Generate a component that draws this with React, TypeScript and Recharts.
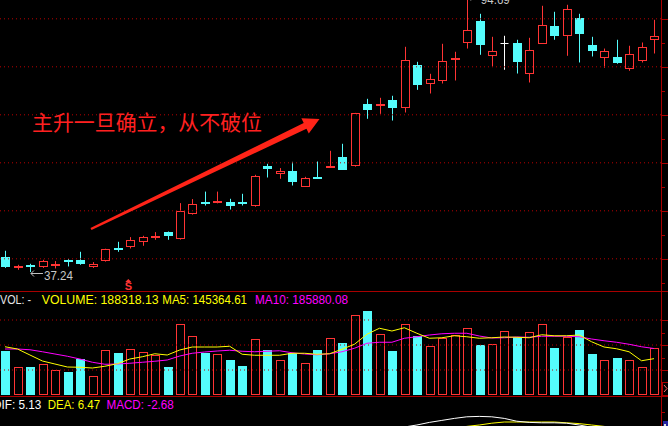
import React from 'react'
import {
  Bar,
  ComposedChart,
  Line,
  LineChart,
  ReferenceDot,
  ReferenceLine,
  XAxis,
  YAxis,
} from 'recharts'

// Daily K-line, 53 sessions (price in yuan)
const opens = [40.35, 37.98, 38.7, 38.19, 38.54, 39.8, 39.79, 38.19, 39.44, 42.23, 42.56, 43.4, 44.5, 45.48, 44.1, 49.31, 51.9, 51.6, 51.88, 51.88, 50.9, 59.38, 57.77, 58.33, 55.06, 57.05, 59.1, 61.25, 59.23, 72.29, 71.88, 73.13, 71.4, 80.42, 76.4, 76.94, 81.4, 85.06, 89.58, 82.15, 84.94, 85.0, 78.6, 84.85, 88.54, 86.52, 90.2, 84.58, 81.73, 82.08, 79.44, 81.31, 85.48]
const highs = [41.67, 38.75, 38.96, 39.79, 39.52, 39.94, 41.46, 39.31, 42.1, 43.54, 44.52, 44.79, 45.56, 45.69, 51.6, 52.44, 54.0, 54.0, 52.5, 53.54, 57.5, 59.79, 58.9, 60.2, 57.08, 60.27, 62.5, 63.96, 70.4, 73.33, 73.54, 73.96, 84.17, 81.04, 78.54, 84.79, 83.13, 94.69, 91.04, 86.25, 86.46, 85.63, 86.04, 92.71, 91.46, 92.92, 91.04, 86.25, 83.8, 85.63, 84.38, 85.06, 89.79]
const lows = [38.1, 37.71, 37.24, 38.1, 37.98, 38.4, 38.75, 38.1, 39.42, 41.46, 42.15, 42.71, 43.96, 43.96, 44.0, 49.2, 51.1, 51.55, 50.27, 51.1, 50.85, 56.94, 56.67, 55.27, 55.0, 56.95, 59.05, 58.5, 59.2, 69.17, 70.2, 68.8, 70.48, 75.2, 74.44, 76.52, 77.15, 83.8, 82.5, 80.06, 79.38, 78.6, 76.73, 84.8, 85.63, 82.29, 80.9, 82.15, 79.79, 80.63, 79.17, 80.9, 82.77]
const closes = [38.19, 38.54, 38.4, 39.58, 38.96, 39.65, 38.96, 38.9, 42.08, 41.81, 43.96, 44.58, 44.7, 44.65, 50.0, 51.4, 51.8, 52.02, 51.1, 51.4, 57.29, 58.81, 58.33, 56.1, 56.81, 56.95, 59.38, 58.54, 70.35, 71.04, 72.29, 71.52, 81.46, 76.3, 77.5, 81.25, 81.8, 87.64, 84.58, 83.33, 84.94, 81.1, 83.48, 88.69, 86.52, 92.02, 86.73, 83.19, 83.33, 80.83, 82.71, 84.17, 86.46]

// volume (shares) and its moving averages as drawn
const volumes = [176000, 111000, 112000, 123000, 99000, 92000, 144000, 76000, 179000, 168000, 183000, 171000, 159000, 112000, 283000, 235000, 168000, 163000, 140000, 116000, 224000, 180000, 139000, 168000, 128000, 180000, 228000, 208000, 320000, 336000, 243000, 176000, 283000, 236000, 196000, 229000, 240000, 267000, 200000, 203000, 255000, 233000, 251000, 283000, 187000, 231000, 260000, 164000, 139000, 148000, 139000, 111000, 188318.13]
const ma5 = [193000, 184000, 160000, 136000, 124000, 112000, 111000, 108000, 115000, 125000, 144000, 153000, 165000, 160000, 180000, 192000, 192000, 192000, 195000, 163000, 159000, 159000, 159000, 167000, 167000, 163000, 165000, 183000, 203000, 243000, 267000, 256000, 269000, 247000, 227000, 229000, 237000, 233000, 227000, 229000, 232000, 231000, 229000, 241000, 237000, 237000, 240000, 213000, 192000, 185000, 173000, 137000, 145364.61]
const ma10 = [184000, 184000, 181000, 173000, 164000, 155000, 144000, 131000, 123000, 124000, 127000, 131000, 135000, 140000, 156000, 167000, 172000, 176000, 179000, 175000, 173000, 175000, 177000, 169000, 164000, 161000, 165000, 173000, 187000, 207000, 211000, 211000, 227000, 233000, 240000, 245000, 247000, 247000, 236000, 228000, 229000, 232000, 231000, 235000, 235000, 235000, 233000, 224000, 217000, 211000, 203000, 193000, 185880.08]

// MACD lines (only the tops peek into the window)
const dif = [-0.6, -0.9, -1.1, -1.1, -1.0, -0.9, -0.9, -0.9, -0.6, -0.4, -0.1, 0.2, 0.5, 0.7, 1.4, 2.1, 2.6, 3.0, 3.2, 3.3, 3.8, 4.3, 4.6, 4.6, 4.5, 4.5, 4.7, 4.7, 5.6, 6.4, 7.0, 7.4, 8.25, 8.75, 9.4, 9.9, 10.4, 10.8, 10.9, 10.8, 10.4, 9.7, 9.4, 9.3, 9.3, 9.2, 8.75, 8.2, 7.6, 6.9, 6.3, 5.7, 5.13]
const dea = [0.2, 0.0, -0.2, -0.4, -0.5, -0.6, -0.6, -0.7, -0.7, -0.6, -0.5, -0.4, -0.2, 0.0, 0.3, 0.6, 1.0, 1.4, 1.8, 2.1, 2.4, 2.8, 3.1, 3.4, 3.6, 3.8, 4.0, 4.1, 4.4, 4.8, 5.2, 5.6, 6.1, 6.6, 7.1, 7.6, 8.0, 8.4, 8.75, 9.2, 9.5, 9.5, 9.5, 9.5, 9.5, 9.3, 9.1, 8.75, 8.4, 8.0, 7.5, 7.0, 6.47]

const priceGrid = [40, 50, 60, 70, 80, 90]
const priceTicks = [35, 40, 45, 50, 55, 60, 65, 70, 75, 80, 85, 90]
const volGrid = [100000, 200000, 300000]
const volTicks = [100000, 150000, 200000, 250000, 300000]
const macdTicks = [12]
const signalIdx = 10

const W = 668
const H = 426
const AXIS_X = 661
const X_DOMAIN: [number, number] = [-0.4, 52.56]
const PRICE_DOMAIN: [number, number] = [33.5, 98.0833]
const VOL_DOMAIN: [number, number] = [0, 416000]
const MACD_DOMAIN: [number, number] = [-2.5, 15.75]

const UP = '#ff3434'
const DOWN = '#54fcfc'
const FRAME = '#a80000'
const GRID = '#b80000'
const YELLOW = '#ffff00'
const MAGENTA = '#ff00ff'
const FONT = '"Liberation Sans", Arial, sans-serif'

const rows = opens.map((open, i) => ({
  i,
  open,
  high: highs[i],
  low: lows[i],
  close: closes[i],
  range: [lows[i], highs[i]],
  up: closes[i] >= open,
  vol: volumes[i],
  ma5: ma5[i],
  ma10: ma10[i],
  dif: dif[i],
  dea: dea[i],
}))

const lowIdx = lows.indexOf(Math.min(...lows))
const highIdx = highs.indexOf(Math.max(...highs))

const renderCandle = (props: any) => {
  const { x, y, width, height, payload } = props
  if (x == null || y == null || !payload) return <g />
  const cx = Math.round(x + width / 2) + 0.5
  const top = Math.min(y, y + height)
  const span = Math.abs(height)
  const { open, high, low, close } = payload
  const py = (p: number) => top + ((high - p) / (high - low)) * span
  const yH = py(high)
  const yL = py(low)
  const bodyTop = py(Math.max(open, close))
  const bodyBot = py(Math.min(open, close))
  if (close === open) {
    const yy = Math.round(bodyTop) + 0.5
    return (
      <g stroke="#ffffff">
        <line x1={cx} x2={cx} y1={yH} y2={yL} />
        <line x1={cx - 4} x2={cx + 4} y1={yy} y2={yy} />
      </g>
    )
  }
  if (close > open) {
    const t = Math.round(bodyTop) + 0.5
    const b = Math.max(Math.round(bodyBot) - 0.5, t + 1)
    return (
      <g stroke={UP} strokeWidth={1}>
        <line x1={cx} x2={cx} y1={yH} y2={t} />
        <line x1={cx} x2={cx} y1={b} y2={yL} />
        <rect x={cx - 4} y={t} width={8} height={b - t} fill="#000" />
      </g>
    )
  }
  const t = Math.round(bodyTop)
  const h = Math.max(Math.round(bodyBot) - t, 2)
  return (
    <g>
      <line x1={cx} x2={cx} y1={yH} y2={yL} stroke={DOWN} />
      <rect x={cx - 4.5} y={t} width={9} height={h} fill={DOWN} />
    </g>
  )
}

const renderVolume = (props: any) => {
  const { x, y, width, height, payload } = props
  if (x == null || y == null || !payload) return <g />
  const cx = Math.round(x + width / 2) + 0.5
  const top = Math.round(y)
  const bot = Math.round(y + height)
  if (payload.up) {
    return <rect x={cx - 4} y={top + 0.5} width={8} height={bot - top - 1} fill="none" stroke={UP} />
  }
  return <rect x={cx - 4.5} y={top} width={9} height={bot - top} fill={DOWN} />
}

// right-hand axis ticks: long on the grid levels, short in between
const axisTick = (step: number) => (props: any) => {
  const { y, payload } = props
  const major = Math.abs(payload.value % step) < 1e-6
  const yy = Math.round(y) + 0.5
  return <line x1={AXIS_X} x2={major ? W : AXIS_X + 4} y1={yy} y2={yy} stroke={FRAME} />
}

// "←37.24" style marker for the extreme prices
const extremeLabel = (text: string) => (props: any) => {
  const { cx, cy } = props
  if (cx == null || cy == null) return <g />
  const ly = Math.round(cy) + 1.5
  return (
    <g>
      <polyline points={`${cx + 4},${ly - 3} ${cx + 1},${ly} ${cx + 4},${ly + 3}`} fill="none" stroke="#c0c0c0" />
      <line x1={cx + 1} x2={cx + 13} y1={ly} y2={ly} stroke="#c0c0c0" />
      <text x={cx + 14} y={cy + 7.5} fill="#c8c8c8" fontSize={13} fontFamily={FONT} textLength={29} lengthAdjust="spacingAndGlyphs">
        {text}
      </text>
    </g>
  )
}

const signalMark = (props: any) => {
  const { cx, cy } = props
  if (cx == null || cy == null) return <g />
  const x0 = cx - 1.5
  return (
    <g fill={UP}>
      <polygon points={`${x0 - 3},${cy - 3} ${x0},${cy - 6} ${x0 + 3},${cy - 3}`} />
      <text x={x0} y={cy + 5} textAnchor="middle" fontSize={11} fontWeight="bold" fontFamily={FONT}>
        S
      </text>
    </g>
  )
}

const arrowTail = { x: 91, y: 229 }
const arrowTip = { x: 319.5, y: 119 }

function arrowPoints() {
  const dx = arrowTip.x - arrowTail.x
  const dy = arrowTip.y - arrowTail.y
  const len = Math.hypot(dx, dy)
  const ux = dx / len
  const uy = dy / len
  const nx = -uy
  const ny = ux
  const px = arrowTip.x - ux * 16
  const py = arrowTip.y - uy * 16
  const pts = [
    [arrowTail.x + nx * 1.2, arrowTail.y + ny * 1.2],
    [px + nx * 3.2, py + ny * 3.2],
    [px + nx * 8.5, py + ny * 8.5],
    [arrowTip.x, arrowTip.y],
    [px - nx * 8.5, py - ny * 8.5],
    [px - nx * 3.2, py - ny * 3.2],
    [arrowTail.x - nx * 1.2, arrowTail.y - ny * 1.2],
  ]
  return pts.map((p) => p.join(',')).join(' ')
}

const flat = { top: 0, right: 0, bottom: 0, left: 0 }

export default function App() {
  return (
    <div style={{ position: 'fixed', left: 0, top: 0, width: W, height: H, background: '#000', overflow: 'hidden' }}>
      {/* price panel */}
      <div style={{ position: 'absolute', left: 0, top: -20 }}>
        <ComposedChart width={W} height={310} data={rows} margin={flat}>
          <XAxis dataKey="i" type="number" domain={X_DOMAIN} allowDataOverflow hide />
          <YAxis
            orientation="right"
            width={7}
            domain={PRICE_DOMAIN}
            allowDataOverflow
            ticks={priceTicks}
            interval={0}
            tick={axisTick(10)}
            tickLine={false}
            axisLine={false}
          />
          {priceGrid.map((v) => (
            <ReferenceLine key={v} y={v} stroke={GRID} strokeDasharray="1 3" />
          ))}
          <Bar dataKey="range" barSize={9} shape={renderCandle} isAnimationActive={false} />
          <ReferenceDot x={lowIdx} y={lows[lowIdx]} shape={extremeLabel(lows[lowIdx].toFixed(2))} />
          <ReferenceDot x={highIdx} y={highs[highIdx]} shape={extremeLabel(highs[highIdx].toFixed(2))} />
          <ReferenceDot x={signalIdx} y={34.55} shape={signalMark} />
        </ComposedChart>
      </div>

      {/* volume panel */}
      <div style={{ position: 'absolute', left: 0, top: 291 }}>
        <ComposedChart width={W} height={104} data={rows} margin={flat}>
          <XAxis dataKey="i" type="number" domain={X_DOMAIN} allowDataOverflow hide />
          <YAxis
            orientation="right"
            width={7}
            domain={VOL_DOMAIN}
            allowDataOverflow
            ticks={volTicks}
            interval={0}
            tick={axisTick(100000)}
            tickLine={false}
            axisLine={false}
          />
          {volGrid.map((v) => (
            <ReferenceLine key={v} y={v} stroke={GRID} strokeDasharray="1 3" />
          ))}
          <Bar dataKey="vol" barSize={9} shape={renderVolume} isAnimationActive={false} />
          <Line dataKey="ma10" stroke={MAGENTA} strokeWidth={1} dot={false} isAnimationActive={false} />
          <Line dataKey="ma5" stroke={YELLOW} strokeWidth={1} dot={false} isAnimationActive={false} />
        </ComposedChart>
      </div>

      {/* MACD panel, mostly below the window */}
      <div style={{ position: 'absolute', left: 0, top: 397 }}>
        <LineChart width={W} height={73} data={rows} margin={flat}>
          <XAxis dataKey="i" type="number" domain={X_DOMAIN} allowDataOverflow hide />
          <YAxis
            orientation="right"
            width={7}
            domain={MACD_DOMAIN}
            allowDataOverflow
            ticks={macdTicks}
            interval={0}
            tick={axisTick(1000)}
            tickLine={false}
            axisLine={false}
          />
          <Line dataKey="dea" stroke={YELLOW} strokeWidth={1} dot={false} isAnimationActive={false} />
          <Line dataKey="dif" stroke="#ffffff" strokeWidth={1} dot={false} isAnimationActive={false} />
        </LineChart>
      </div>

      <svg width={W} height={H} style={{ position: 'absolute', left: 0, top: 0, pointerEvents: 'none' }}>
        <line x1={0} x2={W} y1={291.5} y2={291.5} stroke={FRAME} />
        <line x1={0} x2={W} y1={396.5} y2={396.5} stroke={FRAME} />
        <line x1={AXIS_X + 0.5} x2={AXIS_X + 0.5} y1={0} y2={H} stroke={FRAME} />
        <rect x={662.5} y={382.5} width={6} height={13} fill="none" stroke={FRAME} />
        <polyline points="664,385 667,388.5 664,392" fill="none" stroke="#ff6a6a" />
        <rect x={663} y={421} width={5} height={5} fill="#2424a0" />
        <rect x={664} y={424} width={2} height={2} fill="#dddddd" />

        <g fontFamily={FONT} fontSize={13}>
          <text x={0} y={304} fill="#e6e6e6" textLength={31} lengthAdjust="spacingAndGlyphs">VOL: -</text>
          <text x={41.7} y={304} fill={YELLOW} textLength={117} lengthAdjust="spacingAndGlyphs">VOLUME: 188318.13</text>
          <text x={162.3} y={304} fill={YELLOW} textLength={84.7} lengthAdjust="spacingAndGlyphs">MA5: 145364.61</text>
          <text x={255} y={304} fill={MAGENTA} textLength={93} lengthAdjust="spacingAndGlyphs">MA10: 185880.08</text>
          <text x={-7} y={409} fill="#ffffff" textLength={48.3} lengthAdjust="spacingAndGlyphs">DIF: 5.13</text>
          <text x={47.7} y={409} fill={YELLOW} textLength={52.4} lengthAdjust="spacingAndGlyphs">DEA: 6.47</text>
          <text x={106.5} y={409} fill={MAGENTA} textLength={67.3} lengthAdjust="spacingAndGlyphs">MACD: -2.68</text>
        </g>

        <text
          x={32}
          y={121}
          dominantBaseline="central"
          fill="#ff2020"
          fontSize={21}
          fontFamily='"Noto Sans CJK SC", sans-serif'
          textLength={230}
          lengthAdjust="spacingAndGlyphs"
        >
          主升一旦确立，从不破位
        </text>
        <polygon points={arrowPoints()} fill="#ff2418" />
      </svg>
    </div>
  )
}
